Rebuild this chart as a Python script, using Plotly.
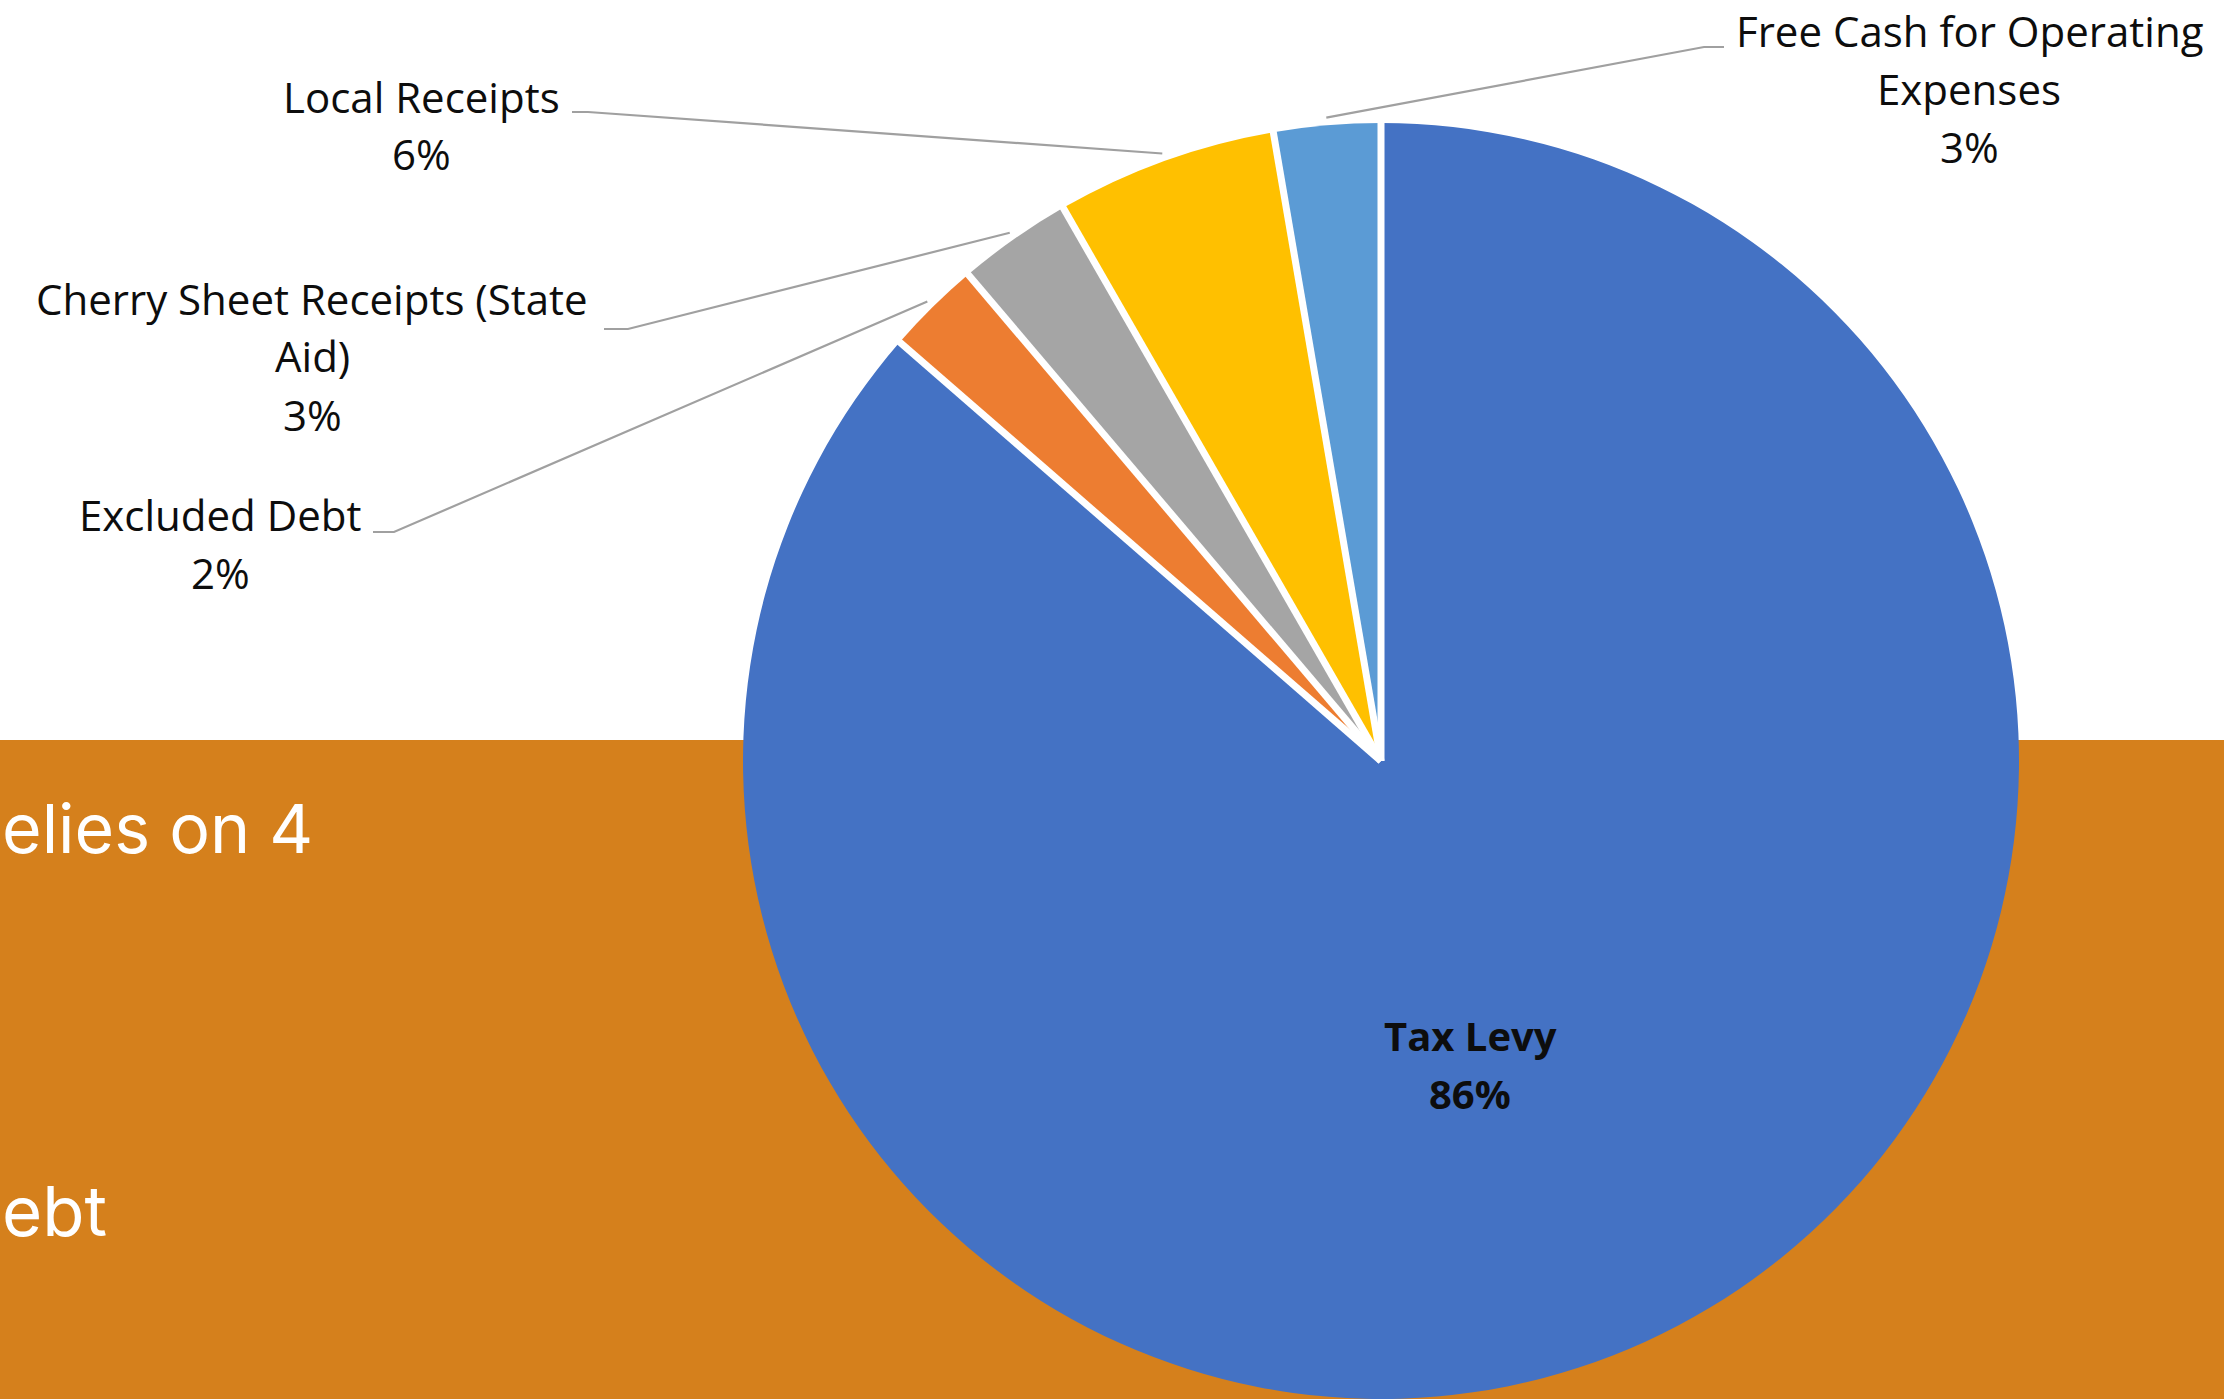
import math
import plotly.graph_objects as go

# ---------------- data ----------------
categories = [
    "Tax Levy",
    "Excluded Debt",
    "Cherry Sheet Receipts (State Aid)",
    "Local Receipts",
    "Free Cash for Operating Expenses",
]
values = [86.4, 2.4, 2.9, 5.6, 2.7]
colors = ["#4472C4", "#ED7D31", "#A5A5A5", "#FFC000", "#5B9BD5"]

# label wrapping as shown in the chart
label_lines = [
    ["Tax Levy"],
    ["Excluded Debt"],
    ["Cherry Sheet Receipts (State", "Aid)"],
    ["Local Receipts"],
    ["Free Cash for Operating", "Expenses"],
]
slide_text = ["elies on 4", "ebt"]

# ---------------- layout constants (pixels) ----------------
W, H = 2224, 1399
CX, CY, R = 1381, 761, 638          # pie centre / radius
BAND_TOP = 740                      # top of orange band

# label centre x and baselines of each line (incl. percentage line)
label_pos = [
    dict(x=1470, base=[1052, 1110], bold=True, leader=None),
    dict(x=220, base=[531, 589], bold=False, leader=[(394, 532), (373, 532)]),
    dict(x=312, base=[315, 372, 431], bold=False, leader=[(628, 329), (604, 329)]),
    dict(x=421, base=[113, 170], bold=False, leader=[(588, 112), (572, 112)]),
    dict(x=1969, base=[47, 105, 163], bold=False, leader=[(1704, 47), (1724, 47)]),
]
LABEL_FONT = 42
LABEL_FAMILY = "Open Sans"
MID_OFF = 0.388   # baseline -> bbox centre offset (em)


def px(x):
    return x / W


def py(y):
    return 1 - y / H


fig = go.Figure()

fig.add_trace(go.Pie(
    labels=categories,
    values=values,
    sort=False,
    direction="clockwise",
    rotation=0,
    marker=dict(colors=colors, line=dict(width=0)),
    textinfo="none",
    hoverinfo="label+percent",
    domain=dict(x=[px(CX - R), px(CX + R)], y=[max(0, py(CY + R)), py(CY - R)]),
    showlegend=False,
))

shapes = []
# orange band
shapes.append(dict(type="rect", xref="paper", yref="paper", x0=0, x1=1,
                   y0=0, y1=py(BAND_TOP), fillcolor="#D5801C",
                   line=dict(width=0), layer="below"))

total = sum(values)
cum = [0.0]
for v in values:
    cum.append(cum[-1] + v / total * 2 * math.pi)


def pt(a, rr):
    return CX + rr * math.sin(a), CY - rr * math.cos(a)


# white separators between slices
for a in cum[:-1]:
    x1, y1 = pt(a, R + 2)
    shapes.append(dict(type="line", xref="paper", yref="paper",
                       x0=px(CX), y0=py(CY), x1=px(x1), y1=py(y1),
                       line=dict(color="white", width=7), layer="above"))

annotations = []
for i, cat in enumerate(categories):
    lp = label_pos[i]
    pct = f"{round(values[i] / total * 100)}%"
    lines = label_lines[i] + [pct]
    for txt, b in zip(lines, lp["base"]):
        bold = lp["bold"]
        annotations.append(dict(
            text=txt, x=px(lp["x"]), y=py(b - MID_OFF * LABEL_FONT),
            xref="paper", yref="paper", xanchor="center", yanchor="middle",
            showarrow=False,
            font=dict(family=LABEL_FAMILY, size=40 if bold else LABEL_FONT,
                      color="#0d0d0d", weight=700 if bold else 500)))
    if lp["leader"]:
        mid = (cum[i] + cum[i + 1]) / 2
        sx, sy = pt(mid, R * 1.012)
        (ex, ey), (fx, fy) = lp["leader"]
        path = f"M {px(sx)},{py(sy)} L {px(ex)},{py(ey)} L {px(fx)},{py(fy)}"
        shapes.append(dict(type="path", xref="paper", yref="paper", path=path,
                           line=dict(color="#A0A0A0", width=2.2), layer="above"))

# slide text on the orange band (left edge of the page)
annotations.append(dict(text=slide_text[0], x=0, y=py(853 - 25),
                        xref="paper", yref="paper", xanchor="left", yanchor="middle",
                        showarrow=False, font=dict(family="Inter", size=68, color="white")))
annotations.append(dict(text=slide_text[1], x=0, y=py(1236 - 25),
                        xref="paper", yref="paper", xanchor="left", yanchor="middle",
                        showarrow=False, font=dict(family="Inter", size=69, color="white")))

fig.update_layout(
    width=W, height=H,
    margin=dict(l=0, r=0, t=0, b=0),
    paper_bgcolor="white",
    plot_bgcolor="white",
    shapes=shapes,
    annotations=annotations,
    showlegend=False,
)

fig.write_html("out.html")
